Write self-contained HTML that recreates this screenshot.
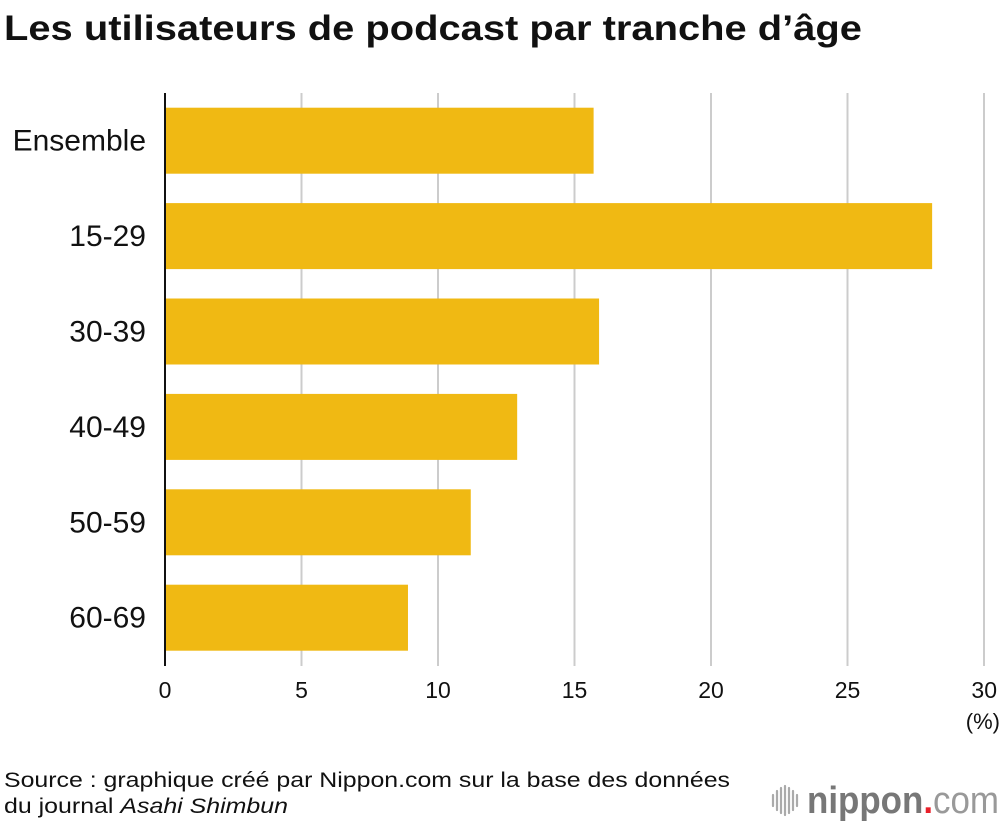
<!DOCTYPE html>
<html><head><meta charset="utf-8"><style>
body{margin:0;background:#fff;width:1000px;height:824px;overflow:hidden;font-family:"Liberation Sans",sans-serif}
</style></head><body>
<svg id="chart" width="1000" height="824" xmlns="http://www.w3.org/2000/svg">
<text x="4" y="40" font-size="35" font-weight="bold" fill="#111" textLength="858" lengthAdjust="spacingAndGlyphs">Les utilisateurs de podcast par tranche d’âge</text>
<g id="grid"></g><g id="bars"></g><g id="ylab"></g><g id="xlab"></g>
<line x1="165" y1="93" x2="165" y2="666" stroke="#111" stroke-width="2"/>
<text x="1000" y="729" font-size="22" text-anchor="end" fill="#111">(%)</text>
<text x="4" y="787" font-size="21" fill="#111" textLength="726" lengthAdjust="spacingAndGlyphs">Source : graphique créé par Nippon.com sur la base des données</text>
<text x="4" y="813" font-size="21" fill="#111" textLength="284" lengthAdjust="spacingAndGlyphs">du journal <tspan font-style="italic">Asahi Shimbun</tspan></text>
<g>
<g stroke="#aaa" stroke-width="2.2" stroke-linecap="round">
<line x1="773" y1="795" x2="773" y2="806"/><line x1="777" y1="791" x2="777" y2="810"/><line x1="781" y1="788" x2="781" y2="813"/><line x1="785" y1="786" x2="785" y2="815"/><line x1="789" y1="788" x2="789" y2="813"/><line x1="793" y1="791" x2="793" y2="810"/><line x1="797" y1="795" x2="797" y2="806"/>
</g>
<text x="807" y="813" font-size="38" fill="#777" textLength="192" lengthAdjust="spacingAndGlyphs"><tspan font-weight="bold">nippon</tspan><tspan fill="#e8202a" font-weight="bold">.</tspan><tspan fill="#999">com</tspan></text>
</g>
</svg>
<script>
const categories=["Ensemble","15-29","30-39","40-49","50-59","60-69"];
const values=[15.7,28.1,15.9,12.9,11.2,8.9];
const ticks=[0,5,10,15,20,25,30];
const NS="http://www.w3.org/2000/svg";
const x0=165,x1=984,xmax=30,top0=93,band=95.4,bh=66;
const xs=v=>x0+(x1-x0)*v/xmax;
const yb=i=>top0+i*band+(band-bh)/2;
function mk(t,a,p){const e=document.createElementNS(NS,t);for(const k in a)e.setAttribute(k,a[k]);document.getElementById(p).appendChild(e);return e;}
ticks.forEach(t=>{
 if(t>0){const l=mk("line",{x1:xs(t),x2:xs(t),y1:top0,y2:666,stroke:"#ccc","stroke-width":2},"grid");
 
 }
 const tx=mk("text",{x:t===30?997:xs(t),y:698,"font-size":23,"text-anchor":t===30?"end":"middle",fill:"#111"},"xlab");
 tx.textContent=t;
 
 
});
categories.forEach((c,i)=>{
 const r=mk("rect",{x:x0,y:yb(i),width:xs(values[i])-x0,height:bh,fill:"#f0b913"},"bars");
 
 
 const t=mk("text",{x:146,y:yb(i)+bh/2+10,"font-size":30,"text-anchor":"end",fill:"#111"},"ylab");
 t.textContent=c;
 
 
});
</script>
</body></html>
